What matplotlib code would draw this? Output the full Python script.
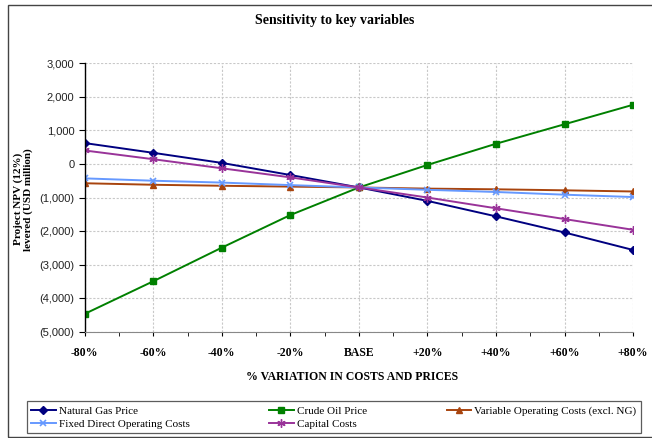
import matplotlib
matplotlib.use("Agg")
import matplotlib.pyplot as plt
from matplotlib.ticker import FuncFormatter, FixedLocator
from matplotlib.patches import Rectangle

categorias = ['-80%', '-60%', '-40%', '-20%', 'BASE', '+20%', '+40%', '+60%', '+80%']

gas_natural = [620, 330, 30, -330, -700, -1100, -1560, -2040, -2560]
crudo = [-4460, -3490, -2490, -1520, -700, -30, 600, 1180, 1760]
costos_variables = [-575, -620, -650, -675, -700, -735, -755, -785, -820]
costos_fijos = [-430, -500, -555, -630, -700, -770, -835, -915, -985]
costos_capital = [400, 140, -130, -400, -700, -1000, -1320, -1640, -1960]

serif = 'Liberation Serif'

fig = plt.figure(figsize=(6.52, 4.38), dpi=100)
ax = fig.add_axes([0.130, 0.242, 0.841, 0.614])

x = list(range(len(categorias)))

l1, = ax.plot(x, gas_natural, color='#000080', marker='D', markersize=4.5, lw=1.4,
              label='Natural Gas Price')
l2, = ax.plot(x, crudo, color='#008000', marker='s', markersize=4.5, lw=1.4,
              label='Crude Oil Price')
l3, = ax.plot(x, costos_variables, color='#A8440E', marker='^', markersize=5, lw=1.4,
              label='Variable Operating Costs (excl. NG)')
l4, = ax.plot(x, costos_fijos, color='#6699FF', marker='x', markersize=5, mew=1.2, lw=1.4,
              label='Fixed Direct Operating Costs')
l5, = ax.plot(x, costos_capital, color='#993399', marker=(6, 2, 0), markersize=6, mew=1.0, lw=1.4,
              label='Capital Costs')

ax.set_xlim(0, len(categorias) - 1)
ax.set_ylim(-5000, 3000)
ax.set_yticks(range(-5000, 3001, 1000))
ax.yaxis.set_major_formatter(FuncFormatter(
    lambda v, p: f"({abs(v):,.0f})" if v < 0 else f"{v:,.0f}"))
ax.set_xticks(x)
ax.set_xticklabels(categorias, fontfamily=serif, fontweight='bold', fontsize=8.5)
ax.xaxis.set_minor_locator(FixedLocator([i + 0.5 for i in x[:-1]]))
for lab in ax.get_yticklabels():
    lab.set_fontfamily('Liberation Sans')
    lab.set_fontsize(8)
    lab.set_color('#222222')

ax.grid(True, color='#c8c8c8', linestyle=(0, (2, 1.5)), lw=0.8)
ax.set_axisbelow(True)
for s in ['top', 'right']:
    ax.spines[s].set_visible(False)
ax.spines['left'].set_linewidth(1.0)
ax.spines['bottom'].set_color('#888888')
ax.tick_params(axis='x', which='both', length=3, pad=8)
ax.tick_params(axis='y', length=4)

fig.text(0.514, 0.954, 'Sensitivity to key variables', ha='center', va='center',
         fontfamily=serif, fontweight='bold', fontsize=10)
fig.text(0.54, 0.139, '% VARIATION IN COSTS AND PRICES', ha='center', va='center',
         fontfamily=serif, fontweight='bold', fontsize=8.5)
fig.text(0.036, 0.545, 'Project NPV (12%)\nlevered (USD million)', ha='center', va='center',
         rotation=90, fontfamily=serif, fontweight='bold', fontsize=8, linespacing=1.05)

leg = fig.legend(handles=[l1, l4, l2, l5, l3], loc='lower left',
                 bbox_to_anchor=(0.041, 0.011, 0.942, 0.080), mode='expand', ncol=3,
                 prop={'family': serif, 'size': 8}, frameon=True, fancybox=False,
                 handlelength=2.2, handletextpad=0.3, borderaxespad=0, labelspacing=0.3)
leg.get_frame().set_edgecolor('#333333')
leg.get_frame().set_linewidth(0.9)

fig.patches.append(Rectangle((8 / 652, 0.002), 1.1, 1 - 5 / 438 - 0.002,
                             transform=fig.transFigure, fill=False,
                             edgecolor='#444444', lw=1.0))

plt.savefig('out.png')
